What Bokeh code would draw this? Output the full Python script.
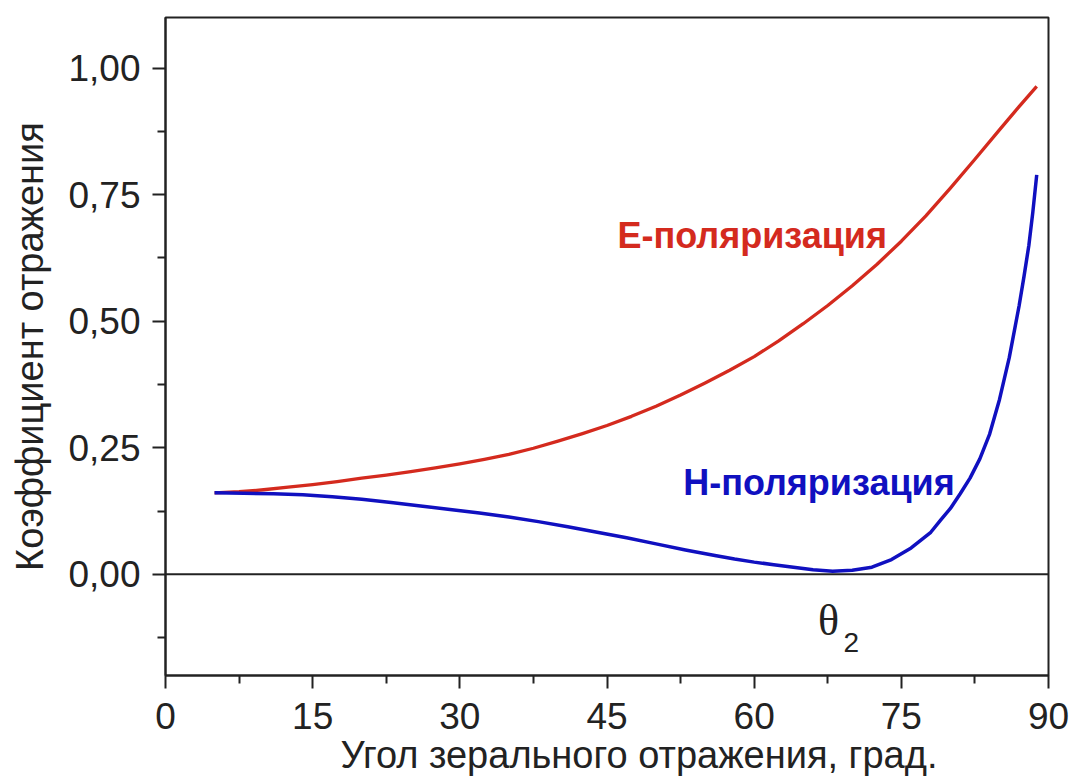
from bokeh.plotting import figure
from bokeh.models import FixedTicker, CustomJSTickFormatter, Span, Label, Title
from bokeh.embed import file_html
from bokeh.resources import INLINE

# ---- data ----
angle_e = [5, 7.5, 10, 12.5, 15, 17.5, 20, 22.5, 25, 27.5, 30, 32.5, 35, 37.5, 40,
           42.5, 45, 47.5, 50, 52.5, 55, 57.5, 60, 62.5, 65, 67.5, 70, 72.5, 75,
           77.5, 80, 82.5, 85, 87, 88.8]
refl_e = [0.161, 0.163, 0.167, 0.172, 0.177, 0.183, 0.190, 0.196, 0.203, 0.210,
          0.218, 0.227, 0.237, 0.249, 0.263, 0.278, 0.294, 0.312, 0.332, 0.354,
          0.378, 0.403, 0.430, 0.461, 0.495, 0.531, 0.570, 0.612, 0.658, 0.708,
          0.763, 0.820, 0.878, 0.924, 0.964]

angle_h = [5, 8, 11, 14, 17, 20, 23, 26, 29, 32, 35, 38, 41, 44, 47, 50, 53, 56,
           58, 60, 62, 64, 66, 68, 70, 72, 74, 76, 78, 79, 80, 81, 82, 83, 84, 85,
           86, 87, 87.5, 88, 88.4, 88.8]
refl_h = [0.161, 0.160, 0.159, 0.157, 0.153, 0.148, 0.142, 0.135, 0.128, 0.121,
          0.113, 0.104, 0.094, 0.083, 0.072, 0.060, 0.048, 0.037, 0.030, 0.024,
          0.019, 0.014, 0.009, 0.006, 0.008, 0.014, 0.029, 0.052, 0.083, 0.107,
          0.130, 0.159, 0.190, 0.228, 0.277, 0.345, 0.428, 0.530, 0.588, 0.650,
          0.715, 0.789]

x_ticks = [0, 15, 30, 45, 60, 75, 90]
x_minor = [7.5, 22.5, 37.5, 52.5, 67.5, 82.5]
y_ticks = [0.0, 0.25, 0.5, 0.75, 1.0]
y_minor = [-0.125, 0.125, 0.375, 0.625, 0.875]

label_e = "E-поляризация"
label_h = "H-поляризация"
x_title = "Угол зерального отражения, град."
y_title = "Коэффициент отражения"

FONT = "Liberation Sans"
INK = "#222222"
RED = "#d42a1e"
BLUE = "#1010c0"

p = figure(width=1071, height=782, x_range=(0, 90), y_range=(-0.2, 1.1),
           output_backend="svg", toolbar_location=None,
           min_border_left=165, min_border_right=23, min_border_top=17,
           min_border_bottom=107)
p.grid.visible = False
p.background_fill_color = "white"
p.border_fill_color = "white"
p.outline_line_color = INK
p.outline_line_width = 2

xa = p.xaxis[0]
xa.ticker = FixedTicker(ticks=x_ticks, minor_ticks=x_minor)
ya = p.yaxis[0]
ya.ticker = FixedTicker(ticks=y_ticks, minor_ticks=y_minor)
ya.formatter = CustomJSTickFormatter(code="return tick.toFixed(2).replace('.', ',');")

for ax in (xa, ya):
    ax.axis_line_color = INK
    ax.axis_line_width = 2
    ax.major_tick_line_color = INK
    ax.major_tick_line_width = 2
    ax.minor_tick_line_color = INK
    ax.minor_tick_line_width = 2
    ax.major_tick_in = 0
    ax.major_tick_out = 13
    ax.minor_tick_in = 0
    ax.minor_tick_out = 8
    ax.major_label_text_font = FONT
    ax.major_label_text_font_size = "37px"
    ax.major_label_text_color = INK

xa.major_label_standoff = 14
ya.major_label_standoff = 12

ya.axis_label = y_title
ya.axis_label_text_font = FONT
ya.axis_label_text_font_size = "38px"
ya.axis_label_text_font_style = "normal"
ya.axis_label_text_color = INK
ya.axis_label_standoff = 14

p.add_layout(Title(text=x_title, align="left", offset=175, standoff=0,
                   text_font=FONT, text_font_size="38px",
                   text_font_style="normal", text_color=INK), "below")

p.add_layout(Span(location=0, dimension="width", line_color=INK, line_width=2))

p.line(angle_e, refl_e, line_color=RED, line_width=3.3, line_join="round")
p.line(angle_h, refl_h, line_color=BLUE, line_width=3.5, line_join="round")

p.add_layout(Label(x=59.8, y=0.670, text=label_e, text_align="center",
                   text_baseline="alphabetic", text_font=FONT,
                   text_font_style="bold", text_font_size="36px", text_color=RED))
p.add_layout(Label(x=66.6, y=0.182, text=label_h, text_align="center",
                   text_baseline="alphabetic", text_font=FONT,
                   text_font_style="bold", text_font_size="36px", text_color=BLUE))
p.add_layout(Label(x=66.5, y=-0.092, text="θ", text_align="left",
                   text_baseline="alphabetic", text_font="Liberation Serif",
                   text_font_size="44px", text_color=INK))
p.add_layout(Label(x=69.1, y=-0.134, text="2", text_align="left",
                   text_baseline="alphabetic", text_font=FONT,
                   text_font_size="28px", text_color=INK))

open("out.html", "w").write(file_html(p, INLINE))
